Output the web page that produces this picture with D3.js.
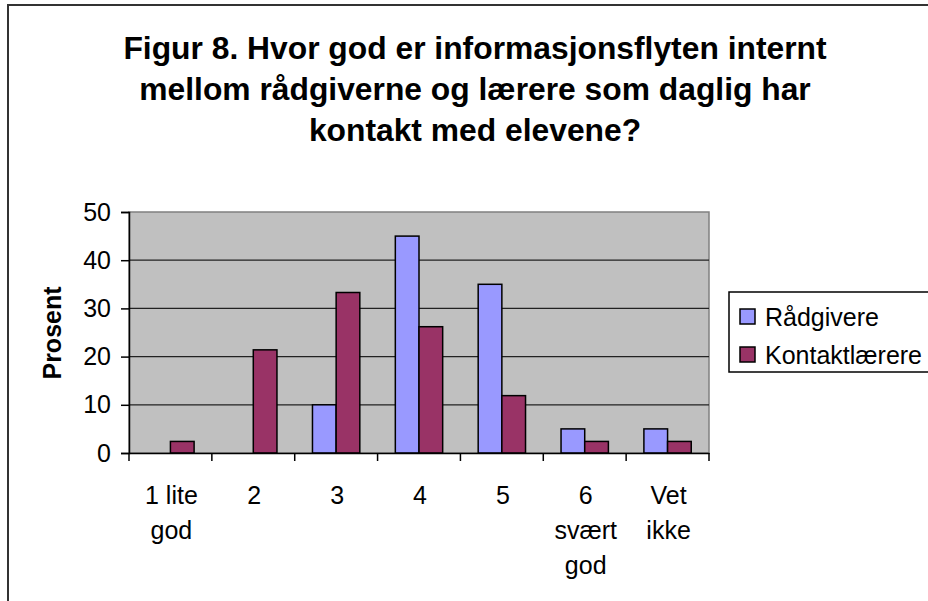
<!DOCTYPE html>
<html>
<head>
<meta charset="utf-8">
<script src="https://cdn.jsdelivr.net/npm/d3@7"></script>
<style>
  html, body { margin: 0; padding: 0; background: #fff; }
  svg { display: block; font-family: "Liberation Sans", Arial, sans-serif; }
</style>
</head>
<body>
<svg id="chart" width="928" height="601"></svg>
<script>
const categories = ["1 lite god", "2", "3", "4", "5", "6 svært god", "Vet ikke"];
const categoryLines = [["1 lite", "god"], ["2"], ["3"], ["4"], ["5"], ["6", "svært", "god"], ["Vet", "ikke"]];
const seriesNames = ["Rådgivere", "Kontaktlærere"];
const raadgivere = [0, 0, 10, 45, 35, 5, 5];
const kontaktlaerere = [2.4, 21.4, 33.3, 26.2, 11.9, 2.4, 2.4];
const yTicks = [0, 10, 20, 30, 40, 50];
const titleLines = [
  "Figur 8. Hvor god er informasjonsflyten internt",
  "mellom rådgiverne og lærere som daglig har",
  "kontakt med elevene?"
];
const yLabel = "Prosent";
const colors = ["#9999FF", "#993366"];

(function () {
const svg = d3.select("#chart");

// outer chart frame (clipped at right and bottom)
svg.append("rect")
  .attr("x", 8).attr("y", 5).attr("width", 940).attr("height", 620)
  .attr("fill", "#fff").attr("stroke", "#333").attr("stroke-width", 2);

// title
const title = svg.append("text")
  .attr("text-anchor", "middle")
  .attr("font-weight", "bold")
  .attr("font-size", 31.8)
  .attr("fill", "#000");
titleLines.forEach((t, i) => {
  title.append("tspan").attr("x", 475).attr("y", 59 + i * 41).text(t);
});

const pLeft = 129, pRight = 709, pTop = 212, pBottom = 453;

const x0 = d3.scaleBand().domain(categories).range([pLeft, pRight]).padding(0);
const x1 = d3.scaleBand().domain(seriesNames).range([0, x0.bandwidth()])
  .paddingInner(0).paddingOuter(0.75);
const y = d3.scaleLinear().domain([0, 50]).range([pBottom, pTop]);

// plot area
svg.append("rect")
  .attr("x", pLeft).attr("y", pTop).attr("width", pRight - pLeft).attr("height", pBottom - pTop)
  .attr("fill", "#C0C0C0").attr("stroke", "#808080").attr("stroke-width", 1.5);

// gridlines
svg.append("g").selectAll("line")
  .data(yTicks.filter(d => d > 0 && d < 50))
  .join("line")
  .attr("x1", pLeft).attr("x2", pRight)
  .attr("y1", d => y(d)).attr("y2", d => y(d))
  .attr("stroke", "#222").attr("stroke-width", 1.2);

// bars
const seriesData = [raadgivere, kontaktlaerere];
seriesData.forEach((vals, si) => {
  svg.append("g").selectAll("rect")
    .data(vals.map((v, i) => ({ cat: categories[i], v })).filter(d => d.v > 0))
    .join("rect")
    .attr("x", d => x0(d.cat) + x1(seriesNames[si]))
    .attr("y", d => y(d.v))
    .attr("width", x1.bandwidth())
    .attr("height", d => y(0) - y(d.v))
    .attr("fill", colors[si])
    .attr("stroke", "#000")
    .attr("stroke-width", 1.5);
});

// y axis
const yAxis = d3.axisLeft(y).tickValues(yTicks).tickSize(8).tickPadding(10).tickFormat(d3.format("d"));
const yg = svg.append("g").attr("transform", `translate(${pLeft},0)`).call(yAxis);
yg.select(".domain").attr("stroke", "#000").attr("stroke-width", 1.5);
yg.selectAll(".tick line").attr("stroke", "#000").attr("stroke-width", 1.5);
yg.selectAll(".tick text").attr("font-size", 25).attr("font-family", "Liberation Sans, Arial, sans-serif").attr("fill", "#000");

// x axis with ticks at category boundaries
const xAxis = d3.axisBottom(x0).tickSize(0).tickFormat("");
const xg = svg.append("g").attr("transform", `translate(0,${pBottom})`).call(xAxis);
xg.select(".domain").attr("stroke", "#000").attr("stroke-width", 1.5);
const boundaries = categories.map(c => x0(c)).concat([x0(categories[categories.length - 1]) + x0.bandwidth()]);
svg.append("g").selectAll("line").data(boundaries).join("line")
  .attr("x1", d => d).attr("x2", d => d)
  .attr("y1", pBottom).attr("y2", pBottom + 8)
  .attr("stroke", "#000").attr("stroke-width", 1.5);

// x category labels (multi-line)
const xl = svg.append("g");
categories.forEach((c, i) => {
  const t = xl.append("text")
    .attr("text-anchor", "middle")
    .attr("font-size", 25)
    .attr("fill", "#000");
  categoryLines[i].forEach((ln, j) => {
    t.append("tspan").attr("x", x0(c) + x0.bandwidth() / 2 + 1).attr("y", 504 + j * 35).text(ln);
  });
});

// y axis title
svg.append("text")
  .attr("transform", "translate(61,333) rotate(-90)")
  .attr("text-anchor", "middle")
  .attr("font-weight", "bold")
  .attr("font-size", 25)
  .attr("fill", "#000")
  .text(yLabel);

// legend
const lg = svg.append("g");
lg.append("rect")
  .attr("x", 729).attr("y", 292).attr("width", 220).attr("height", 80)
  .attr("fill", "#fff").attr("stroke", "#000").attr("stroke-width", 1.5);
seriesNames.forEach((s, i) => {
  const cy = 317 + i * 38;
  lg.append("rect")
    .attr("x", 740).attr("y", cy - 8).attr("width", 15).attr("height", 15)
    .attr("fill", colors[i]).attr("stroke", "#000").attr("stroke-width", 1.5);
  lg.append("text")
    .attr("x", 765).attr("y", cy + 9)
    .attr("font-size", 25)
    .attr("fill", "#000")
    .text(s);
});
})();
</script>
</body>
</html>
